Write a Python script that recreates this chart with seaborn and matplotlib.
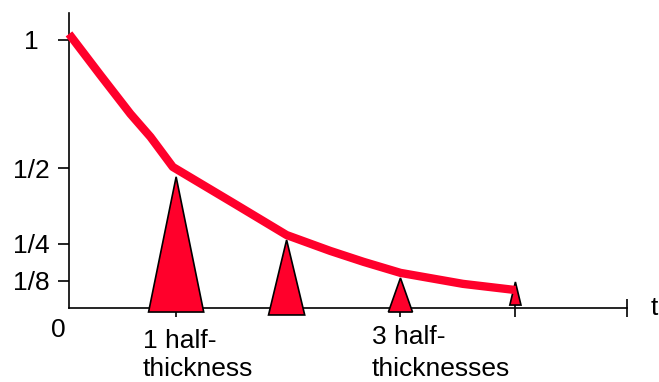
import numpy as np
import matplotlib
matplotlib.use("Agg")
import matplotlib.pyplot as plt
import seaborn as sns

# decay curve, x in half-thickness units, y as fraction remaining
curve_x = [0.0, 0.28, 0.55, 0.73, 0.93, 1.47, 1.95, 2.34, 2.64, 2.97, 3.53, 4.0]
curve_y = [1.022, 0.869, 0.724, 0.638, 0.526, 0.392, 0.272, 0.213, 0.172, 0.131, 0.090, 0.067]

# triangles under the curve at each half-thickness
tri_x = [0.96, 1.95, 2.97, 4.0]
tri_top = [0.489, 0.254, 0.112, 0.097]
tri_base = [-0.015, -0.026, -0.015, 0.011]
tri_half = [0.247, 0.162, 0.108, 0.05]

ytick_pos = [1.0, 0.522, 0.239, 0.101]
ytick_labels = ["1", "1/2", "1/4", "1/8"]
xtick_pos = [0.96, 2.97, 4.0, 5.0]

red = "#ff002b"
W, H = 659, 382

sns.set_style("white")
plt.rcParams["font.family"] = ["Liberation Sans", "DejaVu Sans"]
plt.rcParams["text.color"] = "black"

fig = plt.figure(figsize=(W / 100, H / 100), dpi=100)
ax = fig.add_axes([69 / W, 1 - 308 / H, 558 / W, 295 / H])

# triangles
for cx, top, base, hw in zip(tri_x, tri_top, tri_base, tri_half):
    ax.fill([cx - hw, cx, cx + hw], [base, top, base], facecolor=red,
            edgecolor="black", linewidth=1.2, clip_on=False, zorder=3)

sns.lineplot(x=curve_x, y=curve_y, color=red, linewidth=6, ax=ax,
             solid_capstyle="butt", clip_on=False, zorder=4)

ax.set_xlim(0, 5.0)
ax.set_ylim(0, 1.10)
ax.spines["top"].set_visible(False)
ax.spines["right"].set_visible(False)
for s in ["left", "bottom"]:
    ax.spines[s].set_color("black")
    ax.spines[s].set_linewidth(1.2)

ax.set_yticks(ytick_pos)
ax.set_yticklabels(ytick_labels, fontsize=19, ha="center")
ax.tick_params(axis="y", left=True, direction="out", length=8, width=1.2, pad=19,
               color="black", labelcolor="black")
ax.set_xticks(xtick_pos)
ax.set_xticklabels([])
ax.tick_params(axis="x", bottom=True, direction="inout", length=13, width=1.2, color="black")

def ftext(px, py, s, **kw):
    fig.text(px / W, 1 - py / H, s, fontsize=19, va="baseline", color="black", **kw)

ftext(58.5, 337, "0", ha="center")
ftext(143, 348, "1 half-", ha="left")
ftext(143, 376, "thickness", ha="left")
ftext(372, 344, "3 half-", ha="left")
ftext(372, 376, "thicknesses", ha="left")
ftext(651, 315, "t", ha="left")

fig.savefig("out.png", dpi=100)
